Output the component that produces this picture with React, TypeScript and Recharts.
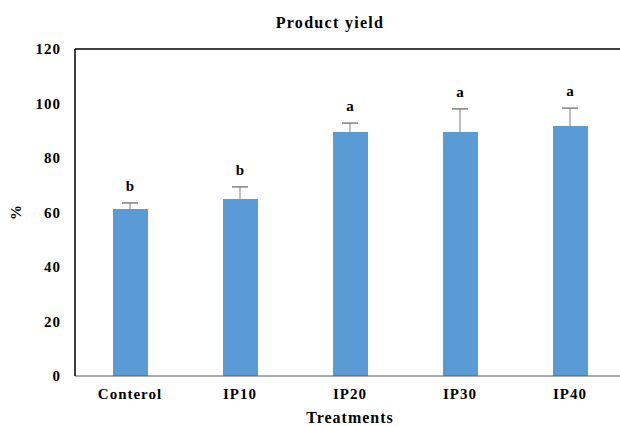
import {
  ComposedChart,
  Bar,
  Line,
  XAxis,
  YAxis,
  ErrorBar,
  LabelList,
  Label,
  ReferenceLine,
} from 'recharts';

const categories = ['Conterol', 'IP10', 'IP20', 'IP30', 'IP40'];
const yieldMean = [61.3, 65.0, 89.5, 89.5, 91.7];
const yieldSd = [2.2, 4.4, 3.3, 8.5, 6.6];
const sigLetters = ['b', 'b', 'a', 'a', 'a'];
const yTicks = [0, 20, 40, 60, 80, 100, 120];

const COLORS = {
  bar: '#5B9BD5',
  error: '#7F7F7F',
  axis: '#000000',
  baseline: '#595959',
  text: '#000000',
};

const FONT = '"Liberation Serif", "Times New Roman", serif';

// upper whisker only: a stem from mean+sd down to the bar top, and a cap at mean+sd
const data = categories.map((name, i) => ({
  name,
  mean: yieldMean[i],
  top: yieldMean[i] + yieldSd[i],
  stem: [yieldSd[i], 0],
  cap: [0, 0],
  sig: sigLetters[i],
}));

const tickStyle = {
  fontSize: 15,
  fontWeight: 700,
  fill: COLORS.text,
  fontFamily: FONT,
  letterSpacing: 1,
};

export default function App() {
  return (
    <div
      style={{
        position: 'absolute',
        left: 0,
        top: 0,
        width: 620,
        height: 426,
        overflow: 'hidden',
        background: '#fff',
        fontFamily: FONT,
      }}
    >
      <div
        style={{
          position: 'absolute',
          left: 0,
          top: 14,
          width: 660,
          textAlign: 'center',
          fontSize: 16,
          fontWeight: 700,
          letterSpacing: 1.3,
          color: COLORS.text,
        }}
      >
        Product yield
      </div>
      <ComposedChart
        width={630}
        height={426}
        data={data}
        margin={{ top: 49, right: 5, left: 0, bottom: 0 }}
      >
        <XAxis
          dataKey="name"
          height={50}
          tick={tickStyle}
          tickLine={false}
          tickSize={0}
          tickMargin={12}
          axisLine={{ stroke: COLORS.baseline, strokeWidth: 1 }}
        >
          <Label
            value="Treatments"
            position="insideBottom"
            offset={3}
            style={{ ...tickStyle, fontSize: 16 }}
          />
        </XAxis>
        <YAxis
          width={75}
          domain={[0, 120]}
          ticks={yTicks}
          interval={0}
          tick={tickStyle}
          tickLine={false}
          tickSize={0}
          tickMargin={14}
          axisLine={{ stroke: COLORS.axis, strokeWidth: 1.5 }}
        >
          <Label
            value="%"
            angle={-90}
            position="insideLeft"
            offset={16}
            textAnchor="middle"
            style={{ ...tickStyle, letterSpacing: 0 }}
          />
        </YAxis>
        <ReferenceLine y={120} stroke={COLORS.axis} strokeWidth={1.5} />
        <Bar
          dataKey="mean"
          fill={COLORS.bar}
          barSize={35}
          isAnimationActive={false}
        />
        <Line
          dataKey="top"
          stroke="none"
          dot={false}
          activeDot={false}
          legendType="none"
          isAnimationActive={false}
        >
          <ErrorBar dataKey="stem" width={0} stroke={COLORS.error} strokeWidth={1} direction="y" />
          <ErrorBar dataKey="cap" width={8} stroke={COLORS.error} strokeWidth={1} direction="y" />
          <LabelList
            dataKey="sig"
            position="top"
            offset={12}
            style={{ ...tickStyle, letterSpacing: 0 }}
          />
        </Line>
      </ComposedChart>
    </div>
  );
}
